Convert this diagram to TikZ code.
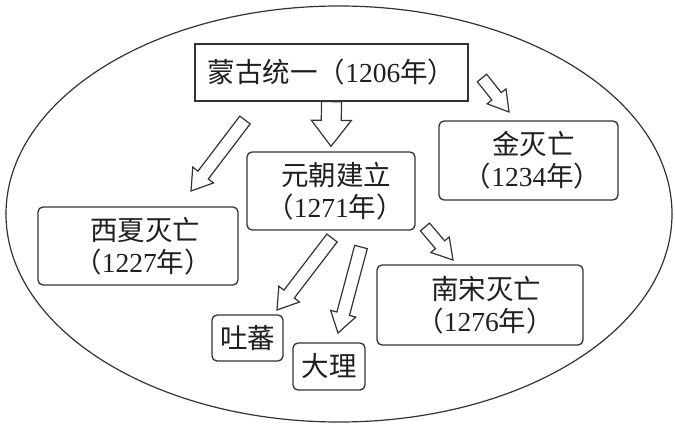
\documentclass[tikz,border=0pt]{standalone}
\usepackage{fontspec}
\setmainfont{Liberation Serif}
\newfontfamily\cjk{Noto Sans CJK SC}
\usetikzlibrary{calc}
\newcommand{\zh}[1]{{\cjk #1}}
\definecolor{ink}{HTML}{333333}
\newcommand{\hollowarrow}[5]{%
  \path ($(#2)!#5!(#1)$) coordinate (hb);
  \draw[blockarrow] ($(#1)!#3!90:(#2)$) -- ($(hb)!#3!90:(#2)$) -- ($(hb)!#4!90:(#2)$) -- (#2)
    -- ($(hb)!#4!-90:(#2)$) -- ($(hb)!#3!-90:(#2)$) -- ($(#1)!#3!-90:(#2)$) -- cycle;
}
\tikzset{
  box/.style={draw=ink, line width=1.3pt, rounded corners=5pt, inner sep=0pt, align=center,
    font=\fontsize{27.5}{32}\selectfont, text=black!88},
  blockarrow/.style={draw=ink, line width=1.2pt, fill=white, line join=miter},
  frame/.style={draw=ink, line width=1.2pt},
}
\begin{document}
\begin{tikzpicture}[x=1pt, y=-1pt]
\useasboundingbox (0,0) rectangle (675,425);
\fill[white] (0,0) rectangle (675,425);
\draw[frame] (339,214) ellipse [x radius=333, y radius=208];

\node[box, sharp corners, minimum width=273pt, minimum height=57pt] (mongol) at (331.5,72.5)
  {\zh{蒙古统一（}1206\zh{年）}};
\node[box, minimum width=168pt, minimum height=78pt] (yuan) at (331,191)
  {\hspace*{10pt}\zh{元朝建立}\\\hspace*{8pt}\zh{（}1271\zh{年）}};
\node[box, minimum width=179pt, minimum height=79pt] (jin) at (528.5,160.5)
  {\hspace*{10pt}\zh{金灭亡}\\\hspace*{8pt}\zh{（}1234\zh{年）}};
\node[box, minimum width=200pt, minimum height=78pt] (xixia) at (138,246)
  {\hspace*{14pt}\zh{西夏灭亡}\\\hspace*{10pt}\zh{（}1227\zh{年）}};
\node[box, minimum width=206pt, minimum height=80pt] (song) at (480,305)
  {\hspace*{12pt}\zh{南宋灭亡}\\\hspace*{10pt}\zh{（}1276\zh{年）}};
\node[box, minimum width=71pt, minimum height=46pt] (tubo) at (247.5,338) {\zh{吐蕃}};
\node[box, minimum width=72pt, minimum height=47pt] (dali) at (329,366.5) {\zh{大理}};

% arrow end points
\coordinate (yuanTip) at ($(yuan.north)+(0,-5)$);
\coordinate (jinTail) at (482,78);   \coordinate (jinTip) at (509,112);
\coordinate (xxTail) at (245,120);   \coordinate (xxTip) at (191,191);
\coordinate (songTail) at (425,227); \coordinate (songTip) at (453,260);
\coordinate (tbTail) at (332,238);   \coordinate (tbTip) at (277,310);
\coordinate (dlTail) at (361,247);   \coordinate (dlTip) at (338,333);

\hollowarrow{mongol.south}{yuanTip}{10pt}{20pt}{26pt}
\hollowarrow{jinTail}{jinTip}{6pt}{12pt}{20pt}
\hollowarrow{xxTail}{xxTip}{6.5pt}{13pt}{20pt}
\hollowarrow{songTail}{songTip}{6pt}{12pt}{20pt}
\hollowarrow{tbTail}{tbTip}{6.5pt}{13pt}{20pt}
\hollowarrow{dlTail}{dlTip}{6.5pt}{13pt}{20pt}
\end{tikzpicture}
\end{document}
